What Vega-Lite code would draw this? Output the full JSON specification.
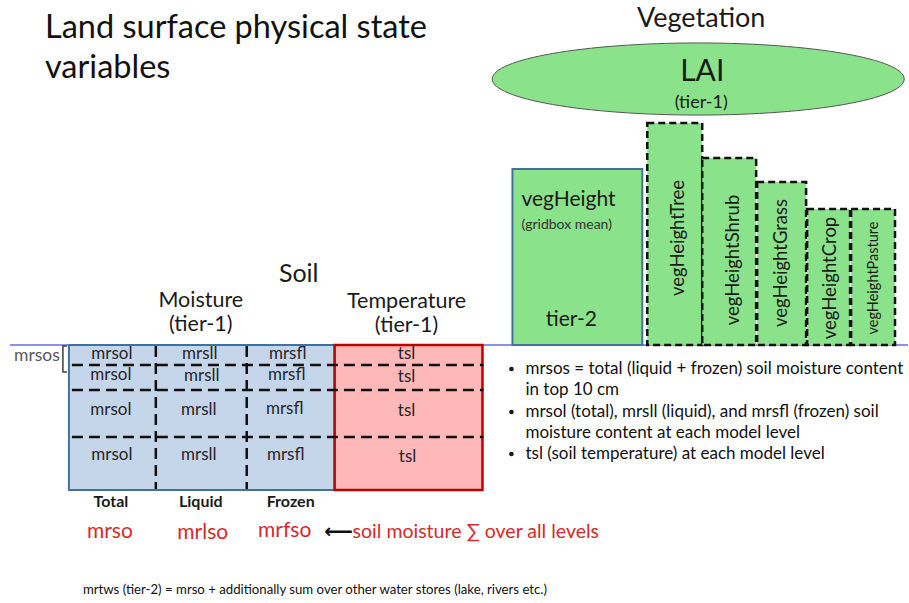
{
  "$schema": "https://vega.github.io/schema/vega-lite/v6.json",
  "width": 909,
  "height": 603,
  "padding": 0,
  "autosize": {"type": "fit", "contains": "padding"},
  "background": "white",
  "config": {"view": {"stroke": null}, "text": {"font": "Lato", "color": "#1a1a1a"}},
  "encoding": {
    "x": {"field": "x", "type": "quantitative", "scale": {"domain": [0, 909], "nice": false, "zero": false}, "axis": null},
    "y": {"field": "y", "type": "quantitative", "scale": {"domain": [0, 603], "nice": false, "zero": false, "reverse": true}, "axis": null}
  },
  "layer": [
    {
      "data": {"values": [{"x": 10, "y": 345, "x2": 909, "y2": 345}]},
      "mark": {"type": "rule", "color": "#8e8ef0", "strokeWidth": 2},
      "encoding": {"x2": {"field": "x2"}, "y2": {"field": "y2"}}
    },
    {
      "data": {"values": [{"x": 69, "x2": 335, "y": 345, "y2": 490}]},
      "mark": {"type": "rect", "fill": "#c5d5ea", "stroke": "#41719c", "strokeWidth": 2},
      "encoding": {"x2": {"field": "x2"}, "y2": {"field": "y2"}}
    },
    {
      "data": {"values": [{"x": 335, "x2": 483, "y": 345, "y2": 490}]},
      "mark": {"type": "rect", "fill": "#ffb8b8", "stroke": "#c00000", "strokeWidth": 2.5},
      "encoding": {"x2": {"field": "x2"}, "y2": {"field": "y2"}}
    },
    {
      "data": {"values": [
        {"x": 72, "y": 365, "x2": 484, "y2": 365},
        {"x": 72, "y": 390, "x2": 484, "y2": 390},
        {"x": 72, "y": 437, "x2": 484, "y2": 437},
        {"x": 156, "y": 346, "x2": 156, "y2": 489},
        {"x": 247, "y": 346, "x2": 247, "y2": 489}
      ]},
      "mark": {"type": "rule", "color": "#111111", "strokeWidth": 2.5, "strokeDash": [11, 6]},
      "encoding": {"x2": {"field": "x2"}, "y2": {"field": "y2"}}
    },
    {
      "data": {"values": [
        {"x": 112, "y": 354, "t": "mrsol"}, {"x": 200, "y": 354, "t": "mrsll"}, {"x": 288, "y": 354, "t": "mrsfl"}, {"x": 407, "y": 354, "t": "tsl"},
        {"x": 111, "y": 375, "t": "mrsol"}, {"x": 202, "y": 376, "t": "mrsll"}, {"x": 287, "y": 375, "t": "mrsfl"}, {"x": 407, "y": 377, "t": "tsl"},
        {"x": 111, "y": 410, "t": "mrsol"}, {"x": 199, "y": 410, "t": "mrsll"}, {"x": 285, "y": 409, "t": "mrsfl"}, {"x": 407, "y": 411, "t": "tsl"},
        {"x": 112, "y": 455, "t": "mrsol"}, {"x": 199, "y": 455, "t": "mrsll"}, {"x": 286, "y": 455, "t": "mrsfl"}, {"x": 408, "y": 457, "t": "tsl"}
      ]},
      "mark": {"type": "text", "fontSize": 17, "align": "center", "baseline": "middle", "color": "#262626"},
      "encoding": {"text": {"field": "t"}}
    },
    {
      "data": {"values": [{"x": 37, "y": 356, "t": "mrsos"}]},
      "mark": {"type": "text", "fontSize": 17.5, "align": "center", "baseline": "middle", "color": "#595959"},
      "encoding": {"text": {"field": "t"}}
    },
    {
      "data": {"values": [{"x": 67, "y": 346, "i": 0}, {"x": 63, "y": 346, "i": 1}, {"x": 63, "y": 372, "i": 2}, {"x": 67, "y": 372, "i": 3}]},
      "mark": {"type": "line", "color": "#404040", "strokeWidth": 1.5},
      "encoding": {"order": {"field": "i", "type": "quantitative"}}
    },
    {
      "data": {"values": [{"x": 111, "y": 502, "t": "Total"}, {"x": 201, "y": 502, "t": "Liquid"}, {"x": 291, "y": 502, "t": "Frozen"}]},
      "mark": {"type": "text", "fontSize": 16, "fontWeight": "bold", "align": "center", "baseline": "middle", "color": "#1a1a1a"},
      "encoding": {"text": {"field": "t"}}
    },
    {
      "data": {"values": [{"x": 110, "y": 532, "t": "mrso"}, {"x": 203, "y": 533, "t": "mrlso"}, {"x": 285, "y": 531, "t": "mrfso"}]},
      "mark": {"type": "text", "fontSize": 21, "align": "center", "baseline": "middle", "color": "#d42a2a"},
      "encoding": {"text": {"field": "t"}}
    },
    {
      "data": {"values": [{"x": 339, "y": 532, "t": "⟵"}]},
      "mark": {"type": "text", "font": "DejaVu Sans", "fontSize": 20, "fontWeight": "bold", "align": "center", "baseline": "middle", "color": "#111111"},
      "encoding": {"text": {"field": "t"}}
    },
    {
      "data": {"values": [{"x": 353, "y": 532, "t": "soil moisture ∑ over all levels"}]},
      "mark": {"type": "text", "fontSize": 19.5, "align": "left", "baseline": "middle", "color": "#d42a2a"},
      "encoding": {"text": {"field": "t"}}
    },
    {
      "data": {"values": [{"x": 299, "y": 274, "t": "Soil"}]},
      "mark": {"type": "text", "fontSize": 25, "align": "center", "baseline": "middle"},
      "encoding": {"text": {"field": "t"}}
    },
    {
      "data": {"values": [{"x": 201, "y": 301, "t": "Moisture"}, {"x": 201, "y": 325, "t": "(tier-1)"}, {"x": 407, "y": 302, "t": "Temperature"}, {"x": 407, "y": 326, "t": "(tier-1)"}]},
      "mark": {"type": "text", "fontSize": 21.5, "align": "center", "baseline": "middle"},
      "encoding": {"text": {"field": "t"}}
    },
    {
      "data": {"values": [{"x": 45, "y": 38, "t": "Land surface physical state"}, {"x": 45, "y": 78, "t": "variables"}]},
      "mark": {"type": "text", "fontSize": 32.5, "align": "left", "baseline": "alphabetic", "color": "#111111"},
      "encoding": {"text": {"field": "t"}}
    },
    {
      "data": {"values": [{"x": 702, "y": 27, "t": "Vegetation"}]},
      "mark": {"type": "text", "fontSize": 27, "align": "center", "baseline": "alphabetic"},
      "encoding": {"text": {"field": "t"}}
    },
    {
      "data": {"values": [{"x": 699, "y": 79}]},
      "mark": {"type": "point", "shape": "M -1 0 C -1 -0.0967 -0.5523 -0.175 0 -0.175 C 0.5523 -0.175 1 -0.0967 1 0 C 1 0.0967 0.5523 0.175 0 0.175 C -0.5523 0.175 -1 0.0967 -1 0 Z", "size": 169744, "filled": true, "fill": "#8ae28a", "stroke": "#555555", "strokeWidth": 1, "opacity": 1, "fillOpacity": 1, "strokeOpacity": 1}
    },
    {
      "data": {"values": [{"x": 703, "y": 72, "t": "LAI"}]},
      "mark": {"type": "text", "fontSize": 30, "align": "center", "baseline": "middle"},
      "encoding": {"text": {"field": "t"}}
    },
    {
      "data": {"values": [{"x": 702, "y": 103, "t": "(tier-1)"}]},
      "mark": {"type": "text", "fontSize": 18, "align": "center", "baseline": "middle"},
      "encoding": {"text": {"field": "t"}}
    },
    {
      "data": {"values": [{"x": 513, "x2": 643, "y": 169, "y2": 345}]},
      "mark": {"type": "rect", "fill": "#8ae28a", "stroke": "#41719c", "strokeWidth": 2},
      "encoding": {"x2": {"field": "x2"}, "y2": {"field": "y2"}}
    },
    {
      "data": {"values": [
        {"x": 648, "x2": 703, "y": 123, "y2": 345},
        {"x": 703, "x2": 757, "y": 158, "y2": 345},
        {"x": 758, "x2": 807, "y": 182, "y2": 345},
        {"x": 808, "x2": 851, "y": 209, "y2": 345},
        {"x": 852, "x2": 896, "y": 209, "y2": 345}
      ]},
      "mark": {"type": "rect", "fill": "#8ae28a", "stroke": "#111111", "strokeWidth": 2.5, "strokeDash": [7, 4]},
      "encoding": {"x2": {"field": "x2"}, "y2": {"field": "y2"}}
    },
    {
      "data": {"values": [{"x": 522, "y": 200, "t": "vegHeight"}]},
      "mark": {"type": "text", "fontSize": 21, "align": "left", "baseline": "middle"},
      "encoding": {"text": {"field": "t"}}
    },
    {
      "data": {"values": [{"x": 522, "y": 225, "t": "(gridbox mean)"}]},
      "mark": {"type": "text", "fontSize": 14, "align": "left", "baseline": "middle", "color": "#333333"},
      "encoding": {"text": {"field": "t"}}
    },
    {
      "data": {"values": [{"x": 572, "y": 320, "t": "tier-2"}]},
      "mark": {"type": "text", "fontSize": 21, "align": "center", "baseline": "middle"},
      "encoding": {"text": {"field": "t"}}
    },
    {
      "data": {"values": [
        {"x": 679, "y": 238, "t": "vegHeightTree"},
        {"x": 734, "y": 260, "t": "vegHeightShrub"},
        {"x": 782, "y": 263, "t": "vegHeightGrass"},
        {"x": 831, "y": 278, "t": "vegHeightCrop"}
      ]},
      "mark": {"type": "text", "fontSize": 18.5, "angle": 270, "align": "center", "baseline": "middle"},
      "encoding": {"text": {"field": "t"}}
    },
    {
      "data": {"values": [{"x": 875, "y": 278, "t": "vegHeightPasture"}]},
      "mark": {"type": "text", "fontSize": 14.5, "angle": 270, "align": "center", "baseline": "middle"},
      "encoding": {"text": {"field": "t"}}
    },
    {
      "data": {"values": [{"x": 512, "y": 369}, {"x": 512, "y": 412}, {"x": 512, "y": 454}]},
      "mark": {"type": "point", "shape": "circle", "size": 22, "filled": true, "color": "#1a1a1a", "opacity": 1}
    },
    {
      "data": {"values": [
        {"x": 526, "y": 369, "t": "mrsos = total (liquid + frozen) soil moisture content"},
        {"x": 526, "y": 390, "t": "in top 10 cm"},
        {"x": 526, "y": 412, "t": "mrsol (total), mrsll (liquid),  and mrsfl (frozen) soil"},
        {"x": 526, "y": 433, "t": "moisture content at each model level"},
        {"x": 526, "y": 454, "t": "tsl (soil temperature) at each model level"}
      ]},
      "mark": {"type": "text", "fontSize": 17, "align": "left", "baseline": "middle", "color": "#111111"},
      "encoding": {"text": {"field": "t"}}
    },
    {
      "data": {"values": [{"x": 83, "y": 590, "t": "mrtws (tier-2) = mrso + additionally sum over other water stores (lake, rivers etc.)"}]},
      "mark": {"type": "text", "fontSize": 13.2, "align": "left", "baseline": "middle", "color": "#111111"},
      "encoding": {"text": {"field": "t"}}
    }
  ]
}
